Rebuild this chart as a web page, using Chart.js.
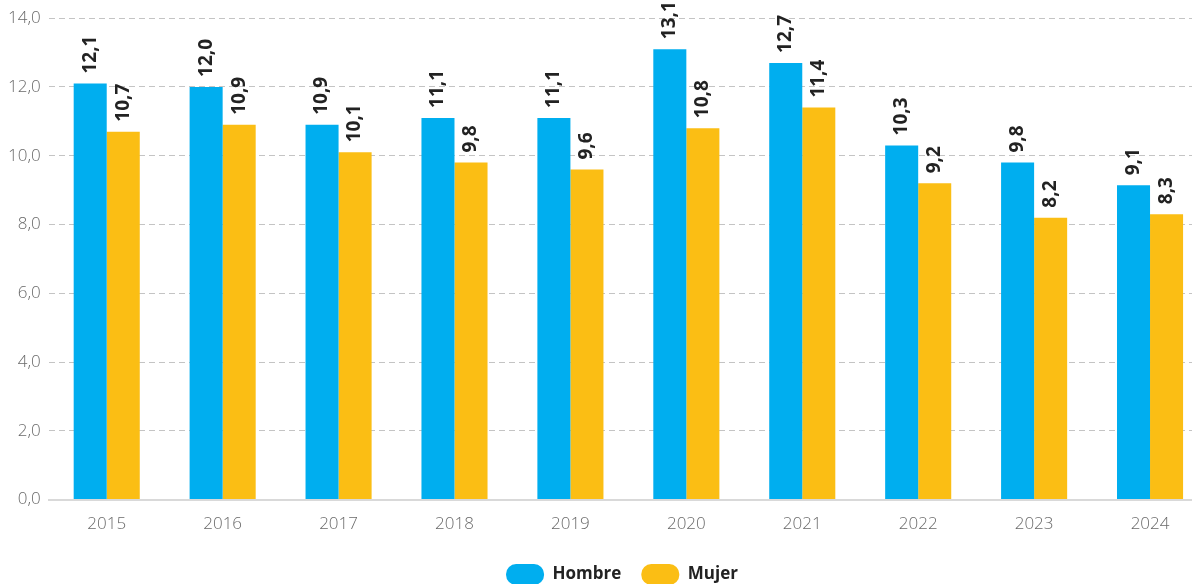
<!DOCTYPE html>
<html>
<head>
<meta charset="utf-8">
<script src="https://cdn.jsdelivr.net/npm/chart.js@4/dist/chart.umd.min.js"></script>
<style>
  html, body { margin: 0; padding: 0; background: #fff; overflow: hidden; }
  #wrap { position: relative; width: 1245px; height: 599px; }
</style>
</head>
<body>
<div id="wrap"><canvas id="chart"></canvas></div>
<script>
var years = ['2015', '2016', '2017', '2018', '2019', '2020', '2021', '2022', '2023', '2024'];
var hombre = [12.1, 12.0, 10.9, 11.1, 11.1, 13.1, 12.7, 10.3, 9.8, 9.14];
var mujer = [10.7, 10.9, 10.1, 9.8, 9.6, 10.8, 11.4, 9.2, 8.2, 8.3];

function fmt(v) {
  return v.toFixed(1).replace('.', ',');
}

// rotated value labels above each bar
var barLabels = {
  id: 'barLabels',
  afterLayout: function(chart) {
    // legend sits a bit right of centre and a bit higher in the original
    chart.legend.left += 18;
    chart.legend.right += 18;
    chart.legend.top -= 4;
    chart.legend.bottom -= 4;
  },
  afterDatasetsDraw: function(chart) {
    var ctx = chart.ctx;
    ctx.save();
    ctx.font = 'bold 19px "Open Sans"';
    ctx.fillStyle = '#222222';
    ctx.textAlign = 'left';
    ctx.textBaseline = 'middle';
    chart.data.datasets.forEach(function(ds, i) {
      chart.getDatasetMeta(i).data.forEach(function(bar, j) {
        ctx.save();
        ctx.translate(bar.x, bar.y - 10);
        ctx.rotate(-Math.PI / 2);
        ctx.fillText(fmt(ds.data[j]), 0, 0);
        ctx.restore();
      });
    });
    ctx.restore();
  }
};

var ctx = document.getElementById('chart').getContext('2d');
var myChart = new Chart(ctx, {
  type: 'bar',
  data: {
    labels: years,
    datasets: [{
      label: 'Hombre',
      data: hombre,
      backgroundColor: '#00AEEF',
      borderWidth: 0
    }, {
      label: 'Mujer',
      data: mujer,
      backgroundColor: '#FBBE14',
      borderWidth: 0
    }]
  },
  options: {
    responsive: true,
    maintainAspectRatio: false,
    animation: false,
    categoryPercentage: 0.57,
    barPercentage: 1,
    layout: { padding: { left: 0, right: 37, top: 17, bottom: 0 } },
    plugins: {
      tooltip: { enabled: false },
      legend: {
        position: 'bottom',
        labels: {
          boxWidth: 38,
          boxHeight: 21,
          useBorderRadius: true,
          borderRadius: 10,
          padding: 20,
          color: '#222222',
          font: { family: 'Open Sans', size: 17, weight: 'bold' }
        }
      }
    },
    scales: {
      x: {
        grid: { display: false, drawTicks: false },
        border: { display: true, color: '#d9d9d9', width: 2 },
        ticks: {
          color: '#6a6a6a',
          padding: 14,
          font: { family: 'Open Sans', size: 17, weight: '300' }
        }
      },
      y: {
        min: 0,
        max: 14,
        grid: { color: '#c4c4c4', drawTicks: false },
        border: { display: false, dash: [6, 4] },
        ticks: {
          stepSize: 2,
          color: '#6a6a6a',
          padding: 8,
          font: { family: 'Open Sans', size: 17, weight: '300' },
          callback: function(v) { return fmt(v); }
        }
      }
    }
  },
  plugins: [barLabels]
});
</script>
</body>
</html>
